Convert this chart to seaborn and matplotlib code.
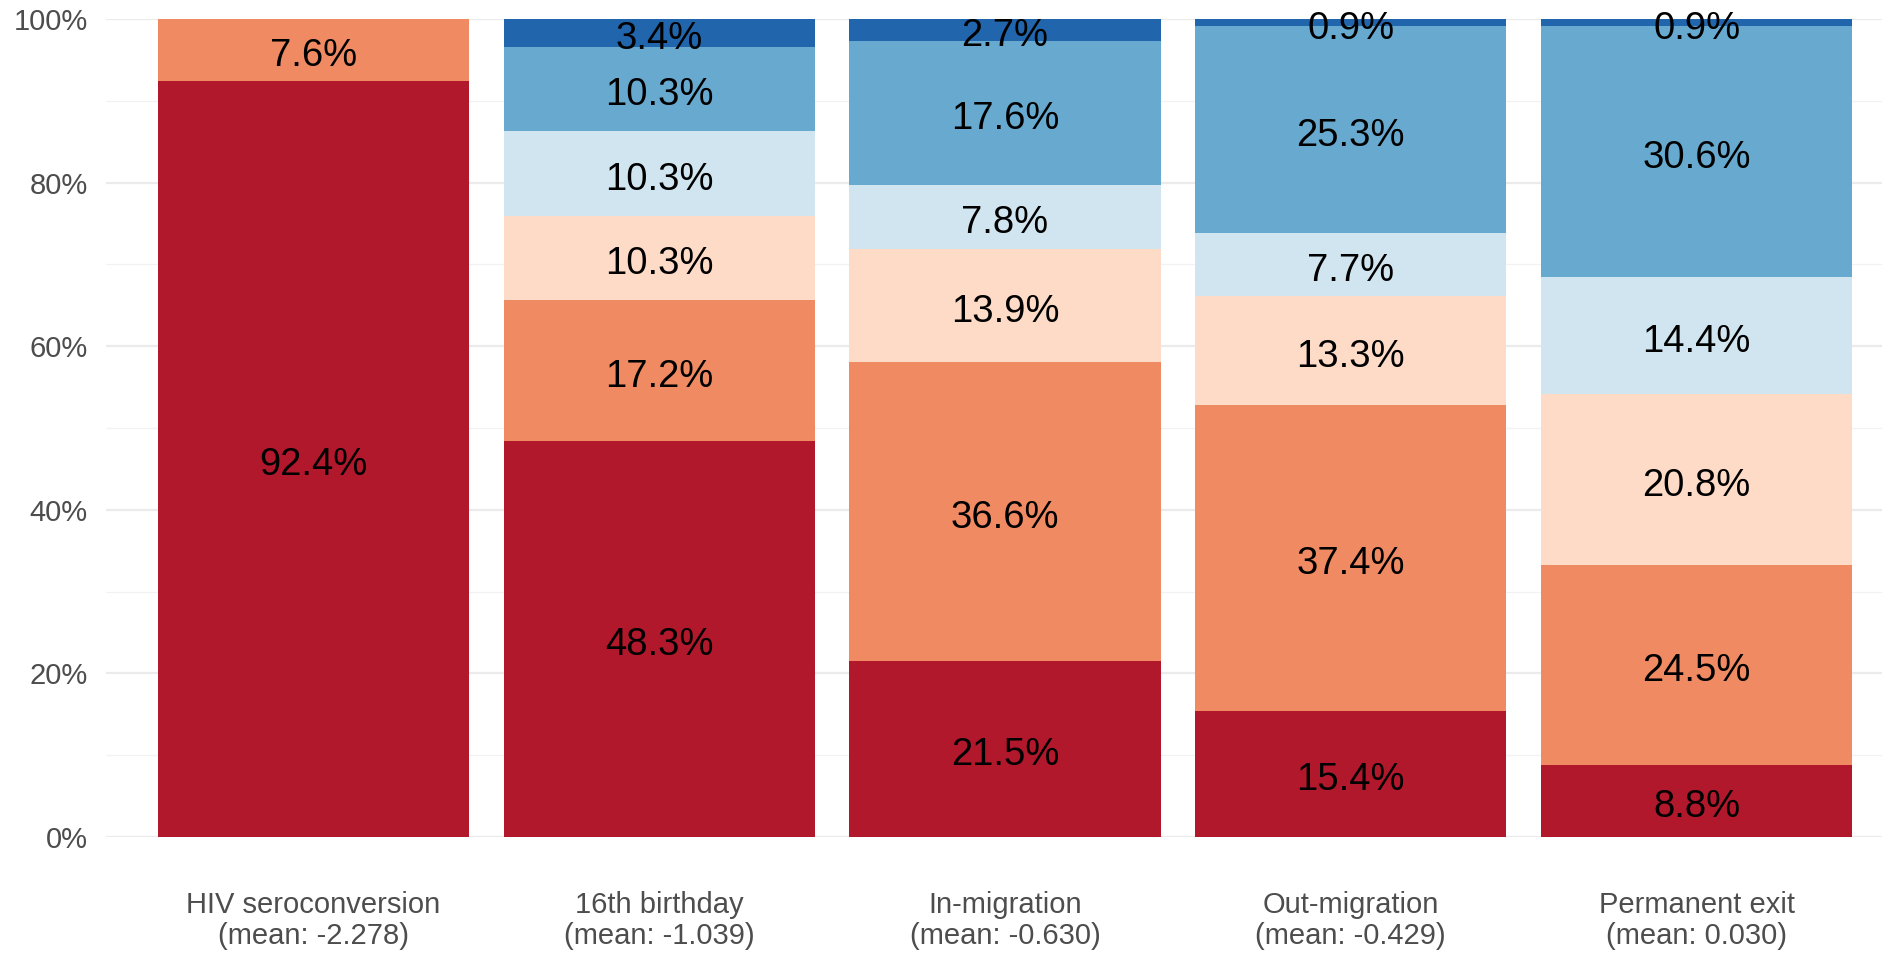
import numpy as np
import pandas as pd
import matplotlib
matplotlib.use("Agg")
import matplotlib.pyplot as plt
import matplotlib.transforms as mtransforms
import seaborn as sns
from matplotlib.ticker import PercentFormatter, MultipleLocator

events = ["HIV seroconversion\n(mean: -2.278)", "16th birthday\n(mean: -1.039)",
          "In-migration\n(mean: -0.630)", "Out-migration\n(mean: -0.429)",
          "Permanent exit\n(mean: 0.030)"]

# shares per category, bottom to top
cat1 = [92.4, 48.3, 21.5, 15.4, 8.8]
cat2 = [7.6, 17.2, 36.6, 37.4, 24.5]
cat3 = [0.0, 10.3, 13.9, 13.3, 20.8]
cat4 = [0.0, 10.3, 7.8, 7.7, 14.4]
cat5 = [0.0, 10.3, 17.6, 25.3, 30.6]
cat6 = [0.0, 3.4, 2.7, 0.9, 0.9]

colors = ["#B2182B", "#EF8A62", "#FDDBC7", "#D1E5F0", "#67A9CF", "#2166AC"]

sns.set_theme(style="white")
plt.rcParams["font.family"] = ["Liberation Sans", "DejaVu Sans"]

fig = plt.figure(figsize=(18.83, 9.58), dpi=100)
ax = fig.add_axes([0.0562, 0.1263, 0.955, 0.8539])

layers = np.array([cat1, cat2, cat3, cat4, cat5, cat6])
stack = layers.cumsum(axis=0)
# normalise so each bar reaches exactly 100%
stack = stack / stack[-1] * 100

# draw tallest cumulative bar first, then overlay lower ones
for i in range(len(layers) - 1, -1, -1):
    df = pd.DataFrame({"event": events, "value": stack[i]})
    sns.barplot(data=df, x="event", y="value", color=colors[i], width=0.9,
                saturation=1, linewidth=0, ax=ax, zorder=2)

# segment labels, nudged a few pixels down
shift = mtransforms.offset_copy(ax.transData, fig=fig, x=0, y=-4.5, units="points")
for j in range(len(events)):
    lower = 0
    for i in range(len(layers)):
        upper = stack[i, j]
        if layers[i, j] > 0:
            ax.text(j, (lower + upper) / 2, f"{layers[i, j]:.1f}%",
                    ha="center", va="center", fontsize=27.5, color="black",
                    zorder=5, clip_on=False, transform=shift)
        lower = upper

ax.set_xlim(-0.6, 4.6)
ax.set_ylim(0, 100)
ax.yaxis.set_major_locator(MultipleLocator(20))
ax.yaxis.set_minor_locator(MultipleLocator(10))
ax.yaxis.set_major_formatter(PercentFormatter(decimals=0))
ax.grid(axis="y", which="major", color="#EBEBEB", linewidth=1.6, zorder=0)
ax.grid(axis="y", which="minor", color="#F2F2F2", linewidth=0.9, zorder=0)
ax.grid(axis="x", visible=False)
ax.set_axisbelow(True)
ax.set_xlabel("")
ax.set_ylabel("")
sns.despine(ax=ax, left=True, bottom=True)
ax.tick_params(axis="x", length=0, pad=39, labelsize=21, labelcolor="#4D4D4D")
ax.tick_params(axis="y", which="both", length=0, pad=13, labelsize=21, labelcolor="#4D4D4D")
for lab in ax.get_xticklabels():
    lab.set_linespacing(1.15)

fig.savefig("out.png", dpi=100)
